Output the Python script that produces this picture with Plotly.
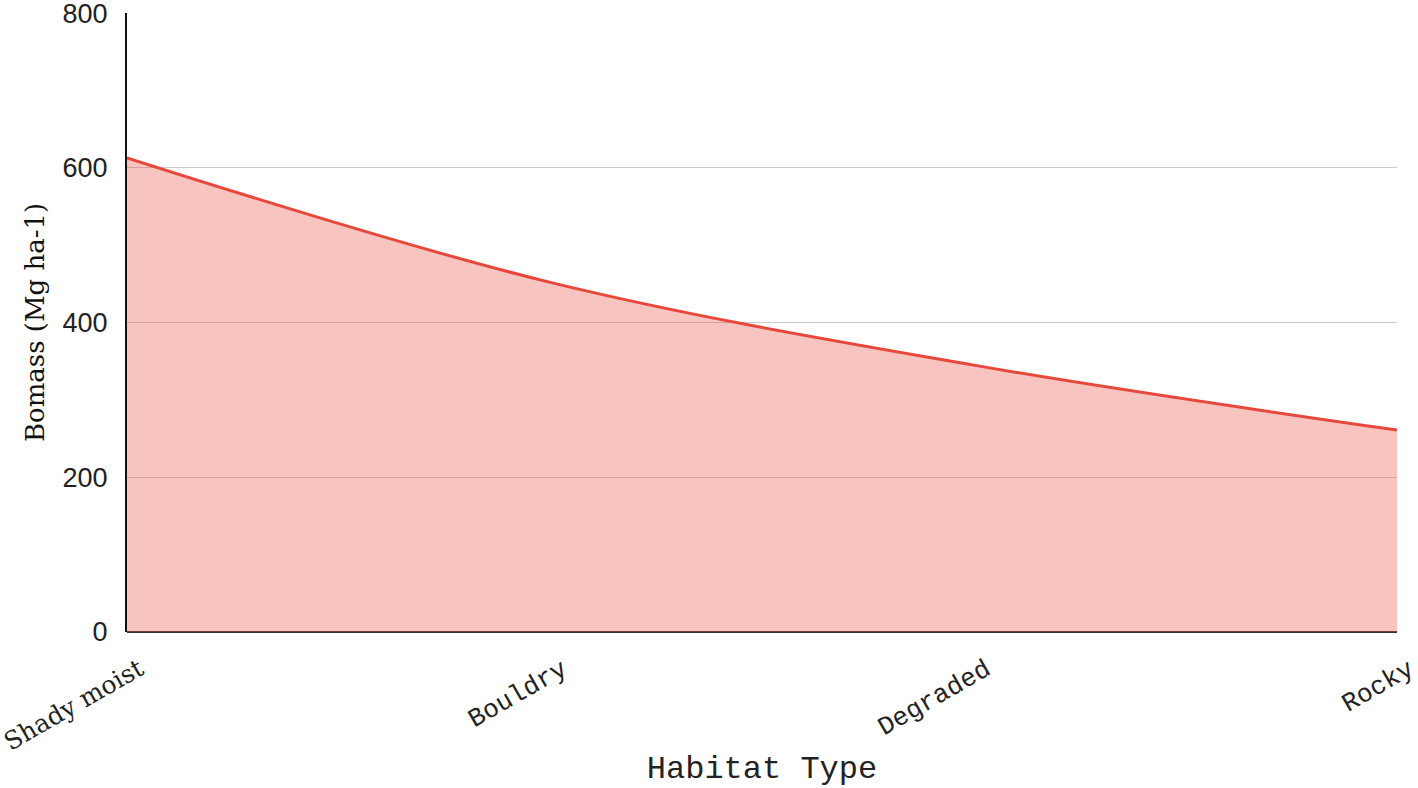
import plotly.graph_objects as go

categories = ["Shady moist", "Bouldry", "Degraded", "Rocky"]
biomass = [613, 452, 345, 261]
y_ticks = [0, 200, 400, 600, 800]
x_title = "Habitat Type"
y_title = "Bomass (Mg ha-1)"

tick_text = [
    '<span style="font-family:DejaVu Serif;font-size:25px">' + categories[0] + '</span>'
] + categories[1:]

fig = go.Figure()
fig.add_trace(go.Scatter(
    x=categories,
    y=biomass,
    mode="lines",
    line=dict(color="#e8473b", width=3, shape="spline", smoothing=1.0),
    fill="tozeroy",
    fillcolor="rgba(232,71,59,0.32)",
    hoverinfo="skip",
    showlegend=False,
))

fig.update_layout(
    width=1418,
    height=788,
    margin=dict(l=127, r=21, t=13, b=156, autoexpand=False),
    paper_bgcolor="white",
    plot_bgcolor="white",
    xaxis=dict(
        type="category",
        range=[0, 3],
        automargin=False,
        tickmode="array",
        tickvals=categories,
        ticktext=tick_text,
        tickangle=-30,
        tickfont=dict(family="Liberation Mono", size=26, color="#222"),
        ticklabelshift=12,
        ticklabelstandoff=16,
        ticklabeloverflow="allow",
        showgrid=False,
        showline=False,
        zeroline=False,
        title=dict(text=x_title, font=dict(family="Liberation Mono", size=32, color="#222"), standoff=12),
    ),
    yaxis=dict(
        range=[0, 800.2],
        automargin=False,
        tickvals=y_ticks,
        tickfont=dict(family="Liberation Sans", size=27, color="#222"),
        ticklabeloverflow="allow",
        showgrid=True,
        gridcolor="#cccccc",
        gridwidth=1,
        zeroline=True,
        zerolinecolor="#333333",
        zerolinewidth=2,
        showline=True,
        linecolor="#111111",
        linewidth=2,
        ticklabelstandoff=12,
        title=dict(text=y_title, font=dict(family="DejaVu Serif", size=26, color="#111"), standoff=10),
    ),
)

fig.write_html(
    "out.html",
    config={"displayModeBar": False},
    post_script="document.body.style.margin='0';document.body.style.overflow='hidden';",
)
